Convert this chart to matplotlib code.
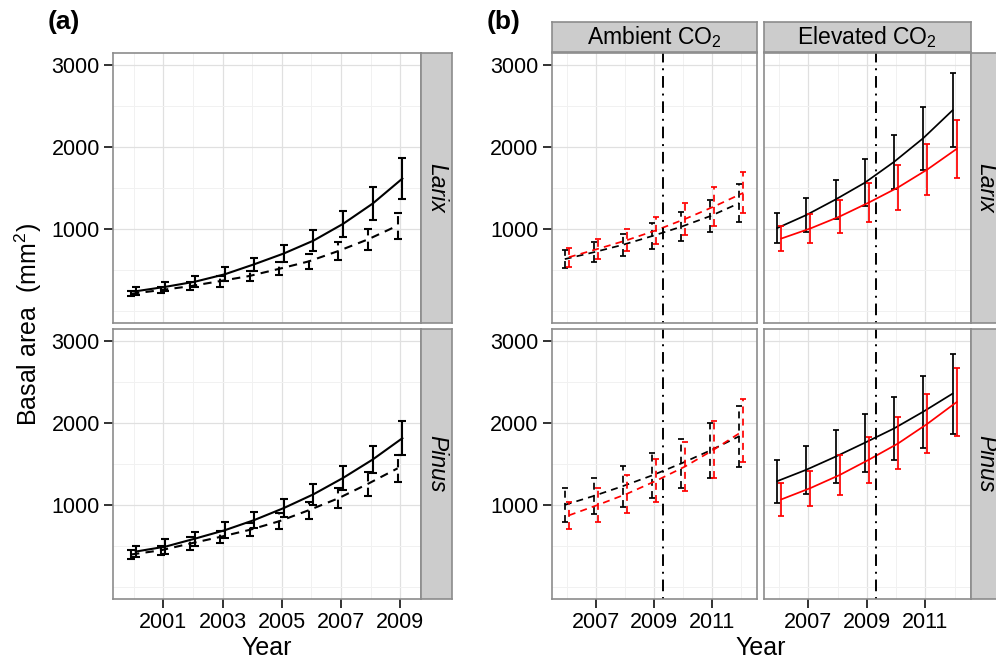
import matplotlib.pyplot as plt
import numpy as np

plt.rcParams['font.family'] = ['Liberation Sans', 'DejaVu Sans']
plt.rcParams['mathtext.fontset'] = 'custom'
plt.rcParams['mathtext.rm'] = 'Liberation Sans'
plt.rcParams['mathtext.it'] = 'Liberation Sans:italic'

# (a) 2000-2009, solid and dashed series (mean, half error bar)
years_a = [2000, 2001, 2002, 2003, 2004, 2005, 2006, 2007, 2008, 2009]
larix_solid = [238, 292, 355, 445, 568, 700, 857, 1062, 1310, 1615]
larix_solid_err = [46, 55, 70, 85, 78, 108, 130, 158, 203, 254]
larix_dash = [207, 252, 300, 362, 425, 512, 603, 730, 872, 1040]
larix_dash_err = [32, 35, 47, 67, 65, 81, 92, 108, 128, 158]
pinus_solid = [430, 490, 588, 690, 815, 962, 1130, 1330, 1555, 1815]
pinus_solid_err = [65, 88, 86, 98, 100, 108, 126, 142, 167, 209]
pinus_dash = [394, 445, 528, 608, 695, 800, 935, 1081, 1258, 1447]
pinus_dash_err = [57, 55, 78, 75, 81, 98, 106, 122, 149, 163]

# (b) 2006-2012, black and red series per CO2 treatment
years_b = [2006, 2007, 2008, 2009, 2010, 2011, 2012]
amb_larix_black = [631, 715, 806, 912, 1026, 1156, 1315]
amb_larix_black_err = [112, 122, 133, 157, 177, 197, 234]
amb_larix_red = [654, 756, 863, 983, 1122, 1275, 1441]
amb_larix_red_err = [114, 122, 137, 167, 191, 234, 250]
elev_larix_black = [1010, 1170, 1360, 1565, 1820, 2110, 2450]
elev_larix_black_err = [183, 213, 241, 284, 329, 386, 451]
elev_larix_red = [882, 1006, 1152, 1323, 1508, 1727, 1978]
elev_larix_red_err = [158, 177, 205, 242, 272, 309, 356]
amb_pinus_black = [1000, 1110, 1230, 1360, 1506, 1665, 1839]
amb_pinus_black_err = [203, 224, 250, 271, 303, 332, 372]
amb_pinus_red = [872, 1000, 1136, 1295, 1470, 1679, 1907]
amb_pinus_red_err = [169, 203, 230, 262, 295, 346, 387]
elev_pinus_black = [1290, 1430, 1590, 1760, 1935, 2140, 2360]
elev_pinus_black_err = [264, 291, 322, 356, 388, 439, 488]
elev_pinus_red = [1067, 1206, 1366, 1553, 1752, 1992, 2257]
elev_pinus_red_err = [197, 214, 244, 281, 317, 362, 411]

W, H = 996, 670


def rect(x0, y0, x1, y1):
    return [x0 / W, 1 - y1 / H, (x1 - x0) / W, (y1 - y0) / H]


def style(ax, xticks, xminor, xlim, show_y, show_x):
    ax.set_xlim(xlim)
    ax.set_ylim(-150, 3150)
    ax.set_xticks(xticks)
    ax.set_xticks(xminor, minor=True)
    ax.set_yticks([1000, 2000, 3000])
    ax.set_yticks([0, 500, 1500, 2500], minor=True)
    ax.grid(which='major', color='#E0E0E0', lw=0.9)
    ax.grid(which='minor', color='#F1F1F1', lw=0.7)
    ax.set_axisbelow(True)
    ax.tick_params(which='minor', length=0)
    ax.tick_params(which='major', length=6.5, width=1.3, color='#222222',
                   labelsize=15.5, pad=3)
    for s in ax.spines.values():
        s.set_color('#8C8C8C')
        s.set_linewidth(1.2)
    if not show_y:
        ax.tick_params(axis='y', length=0, labelleft=False)
    if not show_x:
        ax.tick_params(axis='x', length=0, labelbottom=False)


def strip(r, text, rot=0, italic=False):
    s = fig.add_axes(r)
    s.set_facecolor('#CCCCCC')
    s.set_xticks([])
    s.set_yticks([])
    for sp in s.spines.values():
        sp.set_color('#8C8C8C')
        sp.set_linewidth(1.2)
    s.text(0.5, 0.5, text, rotation=rot, ha='center', va='center',
           fontsize=16.5, style='italic' if italic else 'normal',
           transform=s.transAxes)


def series(ax, x, y, e, color, dashed, lw, cap):
    ax.plot(x, y, color=color, lw=lw, dashes=(4, 3) if dashed else (None, None))
    eb = ax.errorbar(x, y, yerr=e, fmt='none', ecolor=color, elinewidth=lw,
                     capsize=cap, capthick=lw)
    if dashed:
        eb[2][0].set_linestyle((0, (4, 3)))


fig = plt.figure(figsize=(9.96, 6.70), dpi=100)

rows = [(53, 323), (329, 599)]

# panel (a)
xa = np.array(years_a)
data_a = [(larix_solid, larix_solid_err, larix_dash, larix_dash_err, 'Larix'),
          (pinus_solid, pinus_solid_err, pinus_dash, pinus_dash_err, 'Pinus')]
for i, (ys, es, yd, ed, sp) in enumerate(data_a):
    y0, y1 = rows[i]
    ax = fig.add_axes(rect(113, y0, 421, y1))
    style(ax, [2001, 2003, 2005, 2007, 2009], [2000, 2002, 2004, 2006, 2008],
          (1999.3, 2009.7), True, i == 1)
    series(ax, xa - 0.09, yd, ed, 'black', True, 1.5, 2.9)
    series(ax, xa + 0.07, ys, es, 'black', False, 1.5, 2.9)
    strip(rect(421, y0, 452, y1), sp, rot=-90, italic=True)

# panel (b)
xb = np.array(years_b)
data_b = [
    [(amb_larix_black, amb_larix_black_err, amb_larix_red, amb_larix_red_err, True),
     (elev_larix_black, elev_larix_black_err, elev_larix_red, elev_larix_red_err, False)],
    [(amb_pinus_black, amb_pinus_black_err, amb_pinus_red, amb_pinus_red_err, True),
     (elev_pinus_black, elev_pinus_black_err, elev_pinus_red, elev_pinus_red_err, False)],
]
cols = [(551.7, 757.3), (764, 970.7)]
for i in range(2):
    y0, y1 = rows[i]
    for j in range(2):
        x0, x1 = cols[j]
        yb, eb_, yr, er, dashed = data_b[i][j]
        ax = fig.add_axes(rect(x0, y0, x1, y1))
        style(ax, [2007, 2009, 2011], [2006, 2008, 2010, 2012],
              (2005.48, 2012.55), j == 0, i == 1)
        series(ax, xb - 0.07, yb, eb_, 'black', dashed, 1.25, 2.4)
        series(ax, xb + 0.07, yr, er, '#FF0000', dashed, 1.25, 2.4)
        ax.axvline(2009.3, color='black', lw=1.4, dashes=(1, 3, 6, 3))
    strip(rect(970.7, y0, 1001, y1), ['Larix', 'Pinus'][i], rot=-90, italic=True)

strip(rect(551.7, 21.7, 757.3, 51.7), 'Ambient CO$_2$')
strip(rect(764, 21.7, 970.7, 51.7), 'Elevated CO$_2$')

fig.text(64 / W, 1 - 22 / H, '(a)', fontsize=19, fontweight='bold',
         ha='center', va='center')
fig.text(504 / W, 1 - 22 / H, '(b)', fontsize=19, fontweight='bold',
         ha='center', va='center')
fig.text(28 / W, 1 - 325 / H, 'Basal area  (mm$^2$)', fontsize=18,
         rotation=90, ha='center', va='center')
fig.text(267 / W, 1 - 648 / H, 'Year', fontsize=18, ha='center', va='center')
fig.text(761 / W, 1 - 648 / H, 'Year', fontsize=18, ha='center', va='center')

fig.savefig('out.png', dpi=100)
